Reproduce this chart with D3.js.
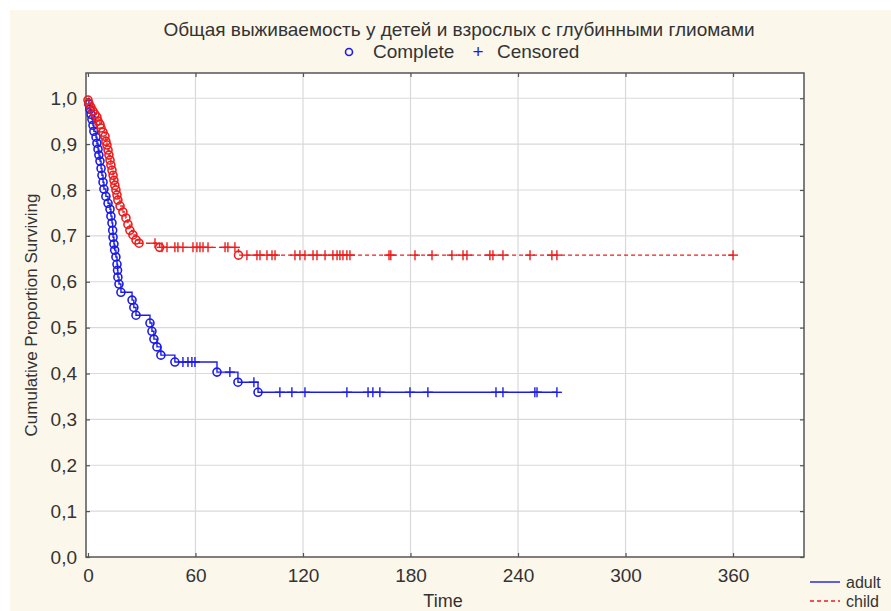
<!DOCTYPE html>
<html>
<head>
<meta charset="utf-8">
<script src="https://cdn.jsdelivr.net/npm/d3@7"></script>
<style>
  body { margin: 0; background: #fff; }
  svg text { font-family: "Liberation Sans", Arial, sans-serif; fill: #333; }
</style>
</head>
<body>
<div id="chart"></div>
<script>
// Kaplan-Meier values (time, cumulative proportion surviving)
const childEventTimes = [0, 0.5, 1.7, 2.8, 3.9, 5, 5.6, 6.7, 7.3, 8.4, 9.5, 10, 10.6, 11.2, 11.7, 12.3,
  12.8, 13.4, 14, 14.5, 15, 15.6, 16.2, 16.7, 17.9, 19.5, 21.2, 22.3, 23.4, 25.1, 26.8, 28.5, 40, 84];
const childEventSurv = [0.996, 0.989, 0.980, 0.972, 0.965, 0.959, 0.950, 0.943, 0.935, 0.926, 0.917,
  0.906, 0.898, 0.887, 0.876, 0.865, 0.854, 0.843, 0.832, 0.821, 0.810, 0.800, 0.789, 0.778, 0.765,
  0.752, 0.739, 0.725, 0.712, 0.702, 0.691, 0.684, 0.675, 0.658];
const childCensorTimes = [37.4, 41.3, 44.1, 48.5, 50.2, 53, 58.6, 60.8, 62.5, 64.2, 67, 76.5, 78.1, 82,
  88.7, 94.3, 96, 99.9, 102.7, 104.4, 115.5, 118.3, 121.1, 125.6, 127.8, 132.3, 136.7, 139, 140.6,
  142.3, 144.5, 146.2, 168, 169, 182.5, 192, 203.1, 209.3, 211.5, 224.3, 226, 231.6, 246.7, 258.9,
  261.7, 360];

const adultEventTimes = [0.5, 1.1, 1.7, 2.2, 2.8, 3.3, 4.5, 5, 5.6, 6.1, 6.7, 7.3, 7.8, 8.4, 8.9, 10,
  11.2, 12.3, 12.8, 13.4, 13.8, 14, 14.5, 14.9, 15.6, 16.2, 16.5, 16.7, 17.3, 18.4, 24.6, 25.6, 26.8,
  34.6, 35.7, 36.8, 38.5, 40.7, 48.5, 72, 83.7, 94.9];
const adultEventSurv = [0.987, 0.976, 0.965, 0.954, 0.941, 0.928, 0.915, 0.902, 0.889, 0.876, 0.863,
  0.847, 0.832, 0.817, 0.802, 0.786, 0.771, 0.758, 0.743, 0.728, 0.712, 0.697, 0.682, 0.669, 0.654,
  0.638, 0.625, 0.610, 0.595, 0.577, 0.560, 0.544, 0.527, 0.510, 0.492, 0.475, 0.458, 0.440, 0.425,
  0.403, 0.381, 0.359];
const adultCensorTimes = [53, 55.8, 58, 59.7, 79.2, 92.6, 107.1, 113.8, 121.1, 144.5, 156.3, 159,
  162.9, 179.7, 189.7, 227.7, 231.6, 249.4, 250.6, 261.7];

const xTicks = [0, 60, 120, 180, 240, 300, 360];
const yTicks = [0, 0.1, 0.2, 0.3, 0.4, 0.5, 0.6, 0.7, 0.8, 0.9, 1.0];

const groups = [
  { name: 'adult', color: '#1c1ce8', dash: null, times: adultEventTimes, surv: adultEventSurv, cens: adultCensorTimes },
  { name: 'child', color: '#ee1c1c', dash: '4,3', times: childEventTimes, surv: childEventSurv, cens: childCensorTimes },
];

const width = 891;
const height = 611;
const margin = { top: 73, right: 87, bottom: 54, left: 86 };

const svg = d3.select('#chart').append('svg')
  .attr('width', width)
  .attr('height', height);

// cream panel
svg.append('rect')
  .attr('x', 10).attr('y', 10)
  .attr('width', width - 10).attr('height', height - 10)
  .attr('fill', '#fcf7eb');

const x = d3.scaleLinear().domain([-1.1, 399.6]).range([margin.left, width - margin.right]);
const y = d3.scaleLinear().domain([0, 1.055]).range([height - margin.bottom, margin.top]);

svg.append('rect')
  .attr('x', margin.left).attr('y', margin.top)
  .attr('width', x.range()[1] - x.range()[0])
  .attr('height', y.range()[0] - y.range()[1])
  .attr('fill', '#fff');

// grid
svg.append('g')
  .selectAll('line').data(xTicks.slice(1)).enter().append('line')
  .attr('x1', d => x(d)).attr('x2', d => x(d))
  .attr('y1', y.range()[1]).attr('y2', y.range()[0])
  .attr('stroke', '#d9d9d9').attr('stroke-width', 1.2);
svg.append('g')
  .selectAll('line').data(yTicks.slice(1)).enter().append('line')
  .attr('x1', x.range()[0]).attr('x2', x.range()[1])
  .attr('y1', d => y(d)).attr('y2', d => y(d))
  .attr('stroke', '#d9d9d9').attr('stroke-width', 1.2);

// axes (ticks point inward, mirrored on all sides)
const fmt = d3.format('.1f');
const axStyle = g => {
  g.select('.domain').remove();
  g.selectAll('line').attr('stroke', '#555').attr('stroke-width', 1.2);
  g.selectAll('text').style('font-size', '19px').attr('fill', '#333')
    .style('font-family', '"Liberation Sans", Arial, sans-serif');
};
svg.append('g')
  .attr('transform', `translate(0,${y.range()[0]})`)
  .call(d3.axisBottom(x).tickValues(xTicks).tickSizeInner(-4).tickSizeOuter(0).tickPadding(12))
  .call(axStyle);
svg.append('g')
  .attr('transform', `translate(0,${y.range()[1]})`)
  .call(d3.axisTop(x).tickValues(xTicks).tickSizeInner(-4).tickSizeOuter(0).tickFormat(''))
  .call(axStyle);
svg.append('g')
  .attr('transform', `translate(${x.range()[0]},0)`)
  .call(d3.axisLeft(y).tickValues(yTicks).tickSizeInner(-4).tickSizeOuter(0).tickPadding(9)
    .tickFormat(d => fmt(d).replace('.', ',')))
  .call(axStyle);
svg.append('g')
  .attr('transform', `translate(${x.range()[1]},0)`)
  .call(d3.axisRight(y).tickValues(yTicks).tickSizeInner(-4).tickSizeOuter(0).tickFormat(''))
  .call(axStyle);

// frame
svg.append('rect')
  .attr('x', x.range()[0]).attr('y', y.range()[1])
  .attr('width', x.range()[1] - x.range()[0])
  .attr('height', y.range()[0] - y.range()[1])
  .attr('fill', 'none').attr('stroke', '#555').attr('stroke-width', 1.5);

// curves
const survAt = (g, t) => {
  let s = 1;
  g.times.forEach((tt, i) => { if (tt <= t) s = g.surv[i]; });
  return s;
};

groups.forEach(g => {
  const tEnd = d3.max(g.cens.concat(g.times));
  let pts = [[0, 1]];
  let prev = 1;
  g.times.forEach((t, i) => {
    pts.push([t, prev]);
    pts.push([t, g.surv[i]]);
    prev = g.surv[i];
  });
  pts.push([tEnd, prev]);

  svg.append('path')
    .datum(pts)
    .attr('d', d3.line().x(d => x(d[0])).y(d => y(d[1])))
    .attr('fill', 'none')
    .attr('stroke', g.color)
    .attr('stroke-width', 1.4)
    .attr('stroke-dasharray', g.dash);

  svg.append('g').selectAll('circle')
    .data(g.times.map((t, i) => [t, g.surv[i]]))
    .enter().append('circle')
    .attr('cx', d => x(d[0])).attr('cy', d => y(d[1]))
    .attr('r', 4)
    .attr('fill', 'none')
    .attr('stroke', g.color)
    .attr('stroke-width', 1.6);

  const plus = svg.append('g').selectAll('g')
    .data(g.cens.map(t => [t, survAt(g, t)]))
    .enter().append('g')
    .attr('transform', d => `translate(${x(d[0])},${y(d[1])})`);
  plus.append('line').attr('y1', -5).attr('y2', 5)
    .attr('stroke', g.color).attr('stroke-width', 1.4);
  plus.append('line').attr('x1', -5).attr('x2', 5)
    .attr('stroke', g.color).attr('stroke-width', 1.4);
});

// titles
svg.append('text')
  .attr('x', 459).attr('y', 36)
  .attr('text-anchor', 'middle')
  .style('font-size', '19px')
  .text('Общая выживаемость у детей и взрослых с глубинными глиомами');

const topLegend = svg.append('g');
topLegend.append('circle').attr('cx', 349).attr('cy', 52).attr('r', 3.5)
  .attr('fill', 'none').attr('stroke', '#1c1ce8').attr('stroke-width', 1.6);
topLegend.append('text').attr('x', 373).attr('y', 58).style('font-size', '19px').text('Complete');
topLegend.append('text').attr('x', 478).attr('y', 58).attr('text-anchor', 'middle')
  .style('font-size', '19px').style('fill', '#1c1ce8').text('+');
topLegend.append('text').attr('x', 497).attr('y', 58).style('font-size', '19px').text('Censored');

svg.append('text')
  .attr('transform', `translate(37,${(y.range()[0] + y.range()[1]) / 2}) rotate(-90)`)
  .attr('text-anchor', 'middle')
  .style('font-size', '17px')
  .text('Cumulative Proportion Surviving');

svg.append('text')
  .attr('x', 443).attr('y', 607)
  .attr('text-anchor', 'middle')
  .style('font-size', '18px')
  .text('Time');

// series legend
const leg = svg.append('g').selectAll('g')
  .data(groups).enter().append('g')
  .attr('transform', (d, i) => `translate(810,${582 + i * 19})`);
leg.append('line').attr('x1', 0).attr('x2', 30)
  .attr('stroke', d => d.color).attr('stroke-width', 1.4)
  .attr('stroke-dasharray', d => d.dash);
leg.append('text').attr('x', 36).attr('y', 6).style('font-size', '16px').text(d => d.name);
</script>
</body>
</html>
